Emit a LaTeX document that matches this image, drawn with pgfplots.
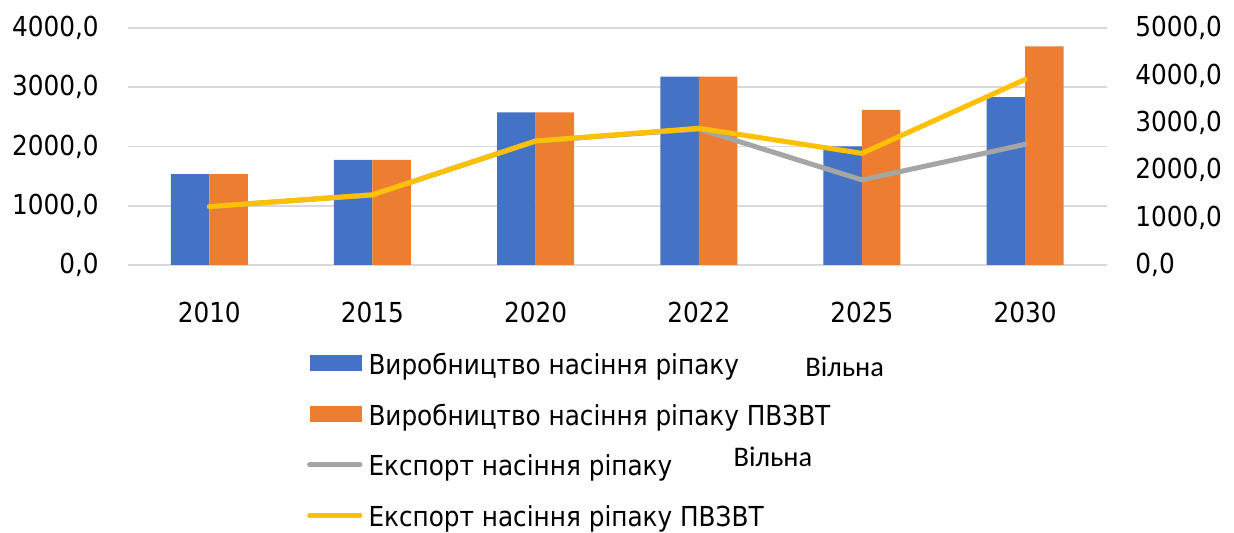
\documentclass[border=0pt]{standalone}
\usepackage{pgfplots}
\pgfplotsset{compat=1.18}
\usepackage{fontspec}
\setmainfont{DejaVu Sans Condensed}
\newfontfamily\calfont{Carlito}
\definecolor{cblue}{HTML}{4472C4}
\definecolor{corange}{HTML}{ED7D31}
\definecolor{cgray}{HTML}{A5A5A5}
\definecolor{cyellow}{HTML}{FFC000}
\definecolor{gridc}{HTML}{D9D9D9}
\newcommand{\tickfont}{\fontsize{13.75}{16}\selectfont}
\pgfplotsset{
  barleg/.style={legend image code/.code={\path[draw=none,fill=none] (0pt,0pt) rectangle (27.6pt,1pt); \fill[##1] (1.5pt,-1.85pt) rectangle (27.6pt,6.15pt);}},
  lineleg/.style={legend image code/.code={\path[draw=none,fill=none] (0pt,0pt) rectangle (27.6pt,1pt); \draw[##1] (1.3pt,2pt) -- (26.5pt,2pt);}},
  base/.style={
    width=489.5pt, height=118.5pt, scale only axis,
    xmin=-0.5, xmax=5.5,
    axis line style={draw=none},
    major tick style={draw=none},
    tick label style={font=\tickfont},
    yticklabel style={/pgf/number format/fixed, /pgf/number format/fixed zerofill, /pgf/number format/precision=1, /pgf/number format/use comma, /pgf/number format/1000 sep={}, /pgf/number format/assume math mode=true},
  }
}
\begin{document}
\begin{tikzpicture}
\useasboundingbox (-63.85pt,-134pt) rectangle (553.15pt,132.5pt);
\begin{axis}[base,
  ymin=0, ymax=4000, ytick={0,1000,2000,3000,4000},
  ymajorgrids, grid style={color=gridc, line width=0.8pt},
  ybar=0pt, bar width=19.25pt,
  xtick={0,1,2,3,4,5},
  xticklabels={2010,2015,2020,2022,2025,2030},
  xticklabel style={anchor=base, inner sep=0pt, yshift=-24.5pt},
  yticklabel style={anchor=east, inner sep=0pt, xshift=-14.3pt},
]
\addplot[fill=cblue, draw=none] coordinates {(0,1532) (1,1775) (2,2575) (3,3180) (4,2000) (5,2832)};
\addplot[fill=corange, draw=none] coordinates {(0,1532) (1,1775) (2,2575) (3,3180) (4,2620) (5,3688)};
\end{axis}
\begin{axis}[base,
  ymin=0, ymax=5000, ytick={0,1000,2000,3000,4000,5000},
  yticklabel pos=right,
  xtick=\empty,
  yticklabel style={anchor=west, inner sep=0pt, xshift=14.15pt},
  legend cell align=left,
  legend style={at={(axis description cs:0.18315,-0.3768)}, anchor=north west,
    draw=none, fill=none, inner sep=0pt, outer sep=0pt,
    font=\tickfont, row sep=12.35pt,
    nodes={inner sep=0pt, text height=10pt, text depth=3pt},
    /tikz/every odd column/.append style={column sep=3pt}},
]
\addlegendimage{fill=cblue, draw=none, barleg}
\addlegendentry{Виробництво насіння ріпаку}
\addlegendimage{fill=corange, draw=none, barleg}
\addlegendentry{Виробництво насіння ріпаку ПВЗВТ}
\addplot[cgray, line width=2.5pt, line join=round, line cap=round, lineleg]
  coordinates {(0,1232) (1,1480) (2,2615) (3,2870) (4,1795) (5,2545)};
\addlegendentry{Експорт насіння ріпаку}
\addplot[cyellow, line width=2.5pt, line join=round, line cap=round, lineleg]
  coordinates {(0,1232) (1,1480) (2,2615) (3,2885) (4,2355) (5,3915)};
\addlegendentry{Експорт насіння ріпаку ПВЗВТ}
\end{axis}
\node[anchor=base west, inner sep=0pt, font=\calfont\fontsize{14.2}{17}\selectfont] at (338.65pt,-55.85pt) {Вільна};
\node[anchor=base west, inner sep=0pt, font=\calfont\fontsize{14.2}{17}\selectfont] at (302.8pt,-100.85pt) {Вільна};
\end{tikzpicture}
\end{document}
